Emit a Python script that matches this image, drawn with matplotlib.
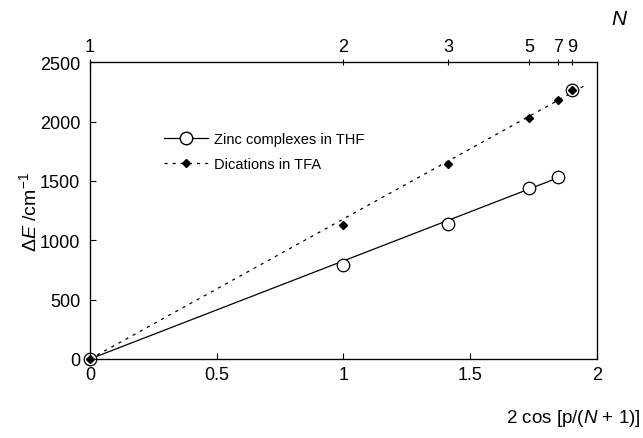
import matplotlib
matplotlib.use("Agg")
import matplotlib.pyplot as plt
import numpy as np
from matplotlib.lines import Line2D

plt.rcParams['font.family'] = ['Liberation Sans', 'DejaVu Sans']
plt.rcParams['mathtext.fontset'] = 'custom'
plt.rcParams['mathtext.rm'] = 'Liberation Sans'
plt.rcParams['mathtext.it'] = 'Liberation Sans:italic'

# Data
N_ticks = [1, 2, 3, 5, 7, 9]
zinc_x = [0.0, 1.0, 1.414, 1.732, 1.848]
zinc_y = [0, 790, 1140, 1440, 1535]
dic_x = [0.0, 1.0, 1.414, 1.732, 1.848, 1.902]
dic_y = [0, 1130, 1640, 2030, 2180, 2265]
extra_x = [1.902]
extra_y = [2270]
zinc_fit = [0.0, 1.87]
zinc_fit_y = [0, 1545]
dic_fit = [0.0, 1.96]
dic_fit_y = [0, 2312]

fig = plt.figure(figsize=(6.43, 4.39), dpi=100)
ax = fig.add_axes([0.140, 0.180, 0.788, 0.676])

ax.plot(zinc_fit, zinc_fit_y, '-', color='black', lw=0.9)
ax.plot(dic_fit, dic_fit_y, color='black', lw=0.9, linestyle=(0, (2.5, 4)))
ax.plot(zinc_x, zinc_y, 'o', mfc='white', mec='black', ms=9, mew=0.9, zorder=3, clip_on=False)
ax.plot(extra_x, extra_y, 'o', mfc='white', mec='black', ms=9, mew=0.9, zorder=3)
ax.plot(dic_x, dic_y, 'D', color='black', ms=4.5, zorder=4, clip_on=False)

h1 = Line2D([0], [0], color='black', lw=0.9, marker='o', mfc='white', mec='black', ms=9)
h2 = Line2D([0], [0], color='black', lw=0.9, linestyle=(0, (2.5, 4)), marker='D', ms=4.5)
leg = ax.legend([h1, h2], ['Zinc complexes in THF', 'Dications in TFA'],
                loc='upper left', bbox_to_anchor=(0.12, 0.81), frameon=False,
                fontsize=10.5, handlelength=3.0, handletextpad=0.4, labelspacing=0.75)

ax.set_xlim(0, 2)
ax.set_ylim(0, 2500)
ax.set_xticks([0, 0.5, 1, 1.5, 2])
ax.set_xticklabels(['0', '0.5', '1', '1.5', '2'])
ax.set_yticks([0, 500, 1000, 1500, 2000, 2500])
ax.tick_params(direction='in', labelsize=13, length=4, width=0.8, pad=5)
ax.tick_params(axis='y', pad=7)
for s in ax.spines.values():
    s.set_linewidth(0.9)

ax2 = ax.twiny()
ax2.set_xlim(0, 2)
ax2.set_xticks([2 * np.cos(np.pi / (n + 1)) for n in N_ticks])
ax2.set_xticklabels([str(n) for n in N_ticks])
ax2.tick_params(direction='inout', labelsize=13, length=5, width=0.8, pad=3)

ax.set_ylabel(r'$\Delta E$ /cm$^{-1}$', fontsize=14, labelpad=0)
fig.text(0.996, 0.022, r'2 cos [p/($N$ + 1)]', ha='right', va='bottom', fontsize=13.5)
fig.text(0.963, 0.955, r'$N$', ha='center', va='center', fontsize=15)

fig.savefig('out.png', dpi=100)
